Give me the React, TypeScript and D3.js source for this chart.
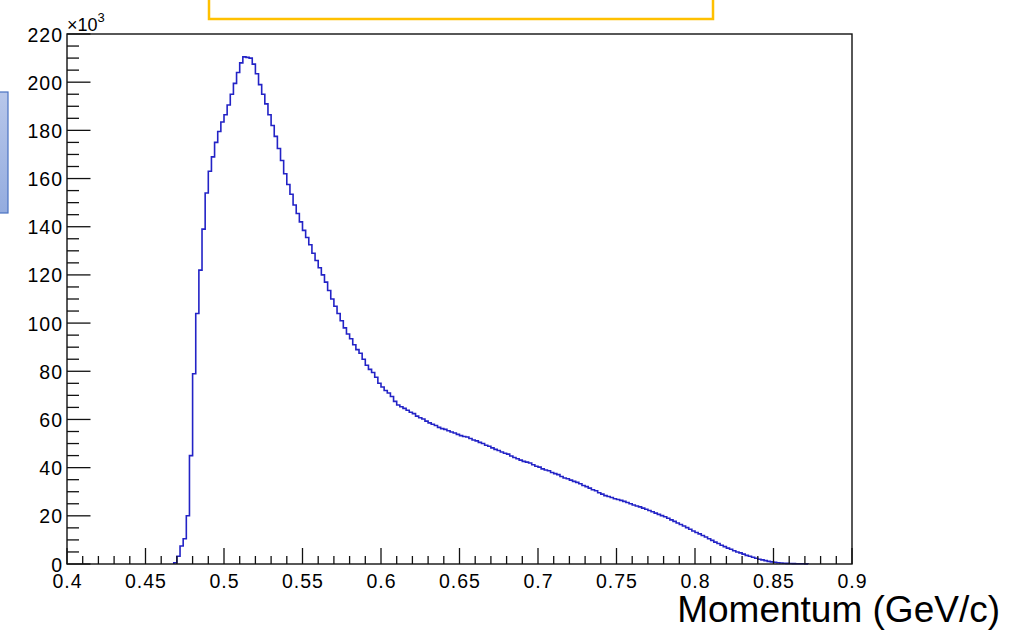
import React, { useEffect, useRef } from "react";
import * as d3 from "d3";

// histogram bins: width 0.002 GeV/c, counts in units of 10^3
const binWidth = 0.002;
const firstEdge = 0.468;

// leading edge up to the peak (0.468 - 0.516)
const risingCounts = [
  0.5, 3.2, 7.5, 10.5, 20, 45, 79, 104, 122, 139, 154, 163, 169, 175, 179.5,
  183.5, 186.5, 190.5, 195, 199.5, 204, 208, 210.5, 210.3, 210,
];

// falling side after the peak (0.518 - 0.610)
const fallingCounts = [
  207.5, 203.5, 199, 195, 191, 186.5, 182, 177.5, 172.5, 167.5, 162, 157.5,
  153.5, 149, 145.5, 142, 138.5, 135.5, 132.5, 129, 126, 123, 120, 117, 113.5,
  110, 107, 104, 101, 98, 95.5, 93.5, 91, 89, 87.5, 85, 82.5, 80.8, 79.5, 77.5,
  75, 73.5, 72, 71, 69.5, 67.5, 66,
];

// slow shoulder (0.612 - 0.738)
const shoulderCounts = [
  65.3, 64.6, 63.8, 63, 62.4, 61.4, 60.7, 60.2, 59.3, 58.6, 58, 57.5, 56.7,
  56.2, 55.9, 55.3, 54.8, 54.4, 53.8, 53.3, 52.9, 52.7, 52.1, 51.5, 51.1, 50.5,
  50, 49.3, 48.9, 48.2, 47.6, 47.1, 46.5, 46, 45.6, 44.8, 44.2, 43.7, 43.1,
  42.6, 42.3, 41.9, 41.2, 40.6, 40.2, 39.5, 39, 38.7, 38, 37.5, 37.1, 36.3,
  35.7, 35.4, 34.8, 34.3, 33.9, 33.3, 32.6, 32.1, 31.5, 30.8, 30.4, 29.6,
];

// tail down to zero (0.740 - 0.872)
const tailCounts = [
  29, 28.4, 28, 27.6, 27.1, 26.8, 26.4, 26, 25.5, 25, 24.5, 24.1, 23.7, 23.2,
  22.7, 22.2, 21.7, 21.1, 20.6, 20.1, 19.6, 19, 18.3, 17.7, 17, 16.4, 15.8,
  15.1, 14.4, 13.7, 13.1, 12.5, 11.8, 11.2, 10.5, 9.8, 9.1, 8.5, 7.8, 7.2, 6.6,
  6.1, 5.5, 5, 4.6, 4.1, 3.6, 3.2, 2.8, 2.4, 2, 1.7, 1.4, 1.1, 0.9, 0.7, 0.5,
  0.4, 0.3, 0.25, 0.2, 0.15, 0.12, 0.1, 0.08, 0.05,
];

const xTicks = [0.4, 0.45, 0.5, 0.55, 0.6, 0.65, 0.7, 0.75, 0.8, 0.85, 0.9];
const xTickLabels = ["0.4", "0.45", "0.5", "0.55", "0.6", "0.65", "0.7", "0.75", "0.8", "0.85", "0.9"];
const yTicks = [0, 20, 40, 60, 80, 100, 120, 140, 160, 180, 200, 220];

const xTitle = "Momentum (GeV/c)";
const FONT = "'Liberation Sans', Arial, Helvetica, sans-serif";

const App = () => {
  const ref = useRef<SVGSVGElement | null>(null);

  useEffect(() => {
    const svg = d3.select(ref.current);
    svg.selectAll("*").remove();

    const counts = [...risingCounts, ...fallingCounts, ...shoulderCounts, ...tailCounts];

    // frame
    const left = 67, right = 852, top = 34, bottom = 564;
    const xScale = d3.scaleLinear().domain([0.4, 0.9]).range([left, right]);
    const yScale = d3.scaleLinear().domain([0, 220]).range([bottom, top]);

    // decorations around the plot (slide boxes)
    const defs = svg.append("defs");
    const grad = defs.append("linearGradient").attr("id", "boxGrad").attr("x1", 0).attr("x2", 0).attr("y1", 0).attr("y2", 1);
    grad.append("stop").attr("offset", "0%").attr("stop-color", "#b8c7ea");
    grad.append("stop").attr("offset", "100%").attr("stop-color", "#94acdf");

    svg.append("rect")
      .attr("x", -3).attr("y", 92).attr("width", 11).attr("height", 121)
      .attr("fill", "url(#boxGrad)").attr("stroke", "#4a72c2").attr("stroke-width", 1.2);

    svg.append("rect")
      .attr("x", 209).attr("y", -6).attr("width", 504).attr("height", 25)
      .attr("fill", "white").attr("stroke", "#ffc000").attr("stroke-width", 2.5);

    // histogram outline
    const pts: [number, number][] = [[firstEdge, 0]];
    counts.forEach((c, i) => pts.push([firstEdge + i * binWidth, c]));
    pts.push([firstEdge + counts.length * binWidth, 0]);

    const line = d3.line<[number, number]>()
      .x((d) => xScale(d[0]))
      .y((d) => yScale(d[1]))
      .curve(d3.curveStepAfter);

    svg.append("path")
      .datum(pts)
      .attr("fill", "none")
      .attr("stroke", "#2323c6")
      .attr("stroke-width", 1.6)
      .attr("d", line);

    // frame box
    svg.append("rect")
      .attr("x", left).attr("y", top).attr("width", right - left).attr("height", bottom - top)
      .attr("fill", "none").attr("stroke", "#111").attr("stroke-width", 1.4);

    const axisG = svg.append("g").attr("stroke", "#111").attr("stroke-width", 1.3);

    // y axis ticks (drawn inward)
    const yMajorLen = 23.5, yMinorLen = 12;
    d3.range(0, 220.1, 5).forEach((v) => {
      const major = v % 20 === 0;
      axisG.append("line")
        .attr("x1", left).attr("x2", left + (major ? yMajorLen : yMinorLen))
        .attr("y1", yScale(v)).attr("y2", yScale(v));
    });

    // x axis ticks
    const xMajorLen = 16, xMinorLen = 8;
    d3.range(0, 51).forEach((k) => {
      const v = 0.4 + k * 0.01;
      const major = k % 5 === 0;
      axisG.append("line")
        .attr("x1", xScale(v)).attr("x2", xScale(v))
        .attr("y1", bottom).attr("y2", bottom - (major ? xMajorLen : xMinorLen));
    });

    // tick labels
    svg.append("g")
      .selectAll("text")
      .data(yTicks)
      .enter()
      .append("text")
      .attr("x", 63)
      .attr("y", (d) => yScale(d) + 7.5)
      .attr("text-anchor", "end")
      .attr("font-family", FONT)
      .attr("font-size", 19.5)
      .attr("letter-spacing", 1)
      .attr("fill", "#000")
      .text((d) => d);

    svg.append("g")
      .selectAll("text")
      .data(xTicks)
      .enter()
      .append("text")
      .attr("x", (d) => xScale(d) + 0.5)
      .attr("y", bottom + 23.5)
      .attr("text-anchor", "middle")
      .attr("font-family", FONT)
      .attr("font-size", 19.5)
      .attr("letter-spacing", 1)
      .attr("fill", "#000")
      .text((d, i) => xTickLabels[i]);

    // exponent label
    const exp = svg.append("text")
      .attr("x", 67).attr("y", 31)
      .attr("font-family", FONT).attr("font-size", 18).attr("fill", "#000");
    exp.append("tspan").text("\u00d710");
    exp.append("tspan").attr("font-size", 13).attr("dy", -9).text("3");

    // axis title
    svg.append("text")
      .attr("x", 1000).attr("y", 622)
      .attr("text-anchor", "end")
      .attr("font-family", FONT)
      .attr("font-size", 37)
      .attr("fill", "#000")
      .text(xTitle);
  }, []);

  return (
    <svg
      ref={ref}
      width={1030}
      height={632}
      style={{ position: "absolute", left: 0, top: 0, background: "white" }}
    />
  );
};

export default App;
